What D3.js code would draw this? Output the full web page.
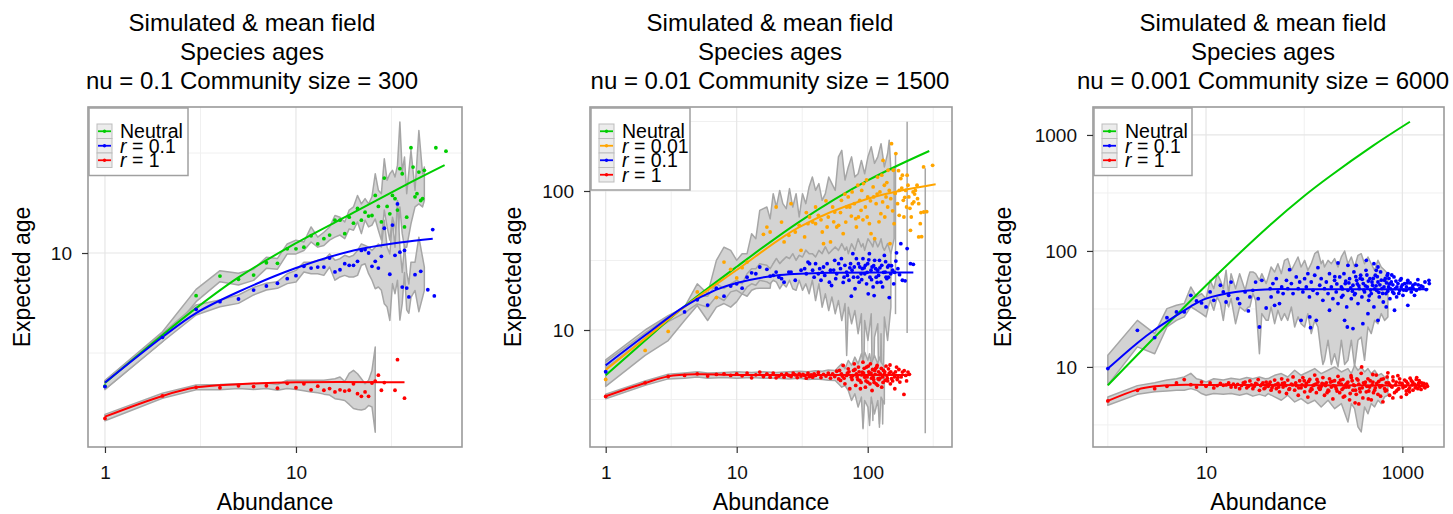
<!DOCTYPE html>
<html>
<head>
<meta charset="utf-8">
<script src="https://cdn.jsdelivr.net/npm/d3@7"></script>
<style>
  html, body { margin: 0; padding: 0; background: #fff; }
  svg { display: block; font-family: "Liberation Sans", Arial, Helvetica, sans-serif; }
</style>
</head>
<body>
<svg id="chart" width="1453" height="514"></svg>
<script>
// ---------- Panel 1: nu = 0.1, community size = 300 ----------
const p1XTicks = [1, 10];
const p1YTicks = [10];
const p1XMinor = [3.162, 31.62];
const p1YMinor = [3.162, 31.62];

const p1NeutralMean = [[1,2.24],[2,3.89],[3,5.3],[5,7.55],[10,11.2],[20,15.9],[40,22.6],[60,27.5]];
const p1R01Mean = [[1,2.25],[2,3.8],[3,5.01],[5,6.4],[10,8.41],[20,10.3],[35,11.3],[52,11.8]];
const p1R1Mean = [[1,1.52],[2,1.93],[3,2.13],[5,2.21],[10,2.26],[37,2.26]];

const p1NeutralPts = [[1,2.16],[2,3.82],[3,6.12],[4,7.67],[5,7.39],[6,7.76],[7,8.94],[8,8.88],[9,10.5],[10,10.5],[11,10.7],[12,12.2],[13,11.1],[14,11.8],[15,12.3],[16,14.6],[17,14.6],[18,12.5],[19,15.1],[20,14.1],[21,16.7],[22,14.6],[23,16.0],[24,15.3],[25,15.4],[26,19.4],[27,17.1],[28,14.3],[29,23.7],[30,17.1],[31,15.7],[32,19.4],[33,18.7],[34,16.4],[35,26.4],[36,24.9],[37,13.5],[38,15.1],[40,33.6],[41,26.9],[42,19.1],[43,19.8],[44,25.4],[45,18.3],[46,18.7],[47,25.9],[54,33.6],[61,32.3]];
const p1R01Pts = [[1,2.15],[2,3.79],[3,5.23],[4,5.71],[5,5.89],[6,6.53],[7,6.84],[8,7.06],[9,7.44],[10,7.7],[11,8.58],[12,8.41],[13,8.51],[14,8.51],[15,9.44],[16,8.04],[17,8.25],[18,8.84],[19,8.68],[20,8.68],[21,9.09],[22,10.3],[23,10.4],[24,10.0],[25,8.58],[26,9.09],[27,8.41],[28,9.63],[29,13.3],[31,7.83],[32,13.8],[33,9.74],[34,17.6],[35,10.1],[36,6.76],[37,10.3],[38,6.68],[39,6.03],[42,7.79],[45,8.1],[49,6.55],[52,13.1],[53,6.1]];
const p1R1Pts = [[1,1.49],[2,1.93],[3,2.13],[4,2.12],[5,2.17],[6,2.15],[7,2.17],[8,2.11],[9,2.23],[10,2.12],[11,2.22],[12,2.07],[13,2.16],[14,2.06],[15,2.10],[16,2.02],[17,2.07],[18,2.04],[19,2.06],[20,2.22],[21,1.98],[22,1.92],[23,2.02],[24,1.92],[25,2.24],[26,2.29],[27,2.45],[28,2.06],[29,2.25],[33,2.06],[34,2.93],[37,1.88]];

// bands: [abundance, low, high]
const p1NeutralBand = [[1,2.08,2.3],[2,3.6,4.04],[3,5.71,6.58],[4,7.19,8.16],[5,6.92,7.92],[6,7.3,8.3],[7,8.38,9.52],[8,8.3,9.4],[9,9.9,11.1],[10,9.9,11.6],[11,10.3,11.35],[12,11.35,13.5],[13,10.7,12.0],[14,10.9,12.7],[15,11.6,13.5],[16,12.0,15.4],[17,12.3,15.1],[18,11.8,14.3],[19,13.2,16.4],[20,13.0,17.0],[21,14.3,19.4],[22,12.5,17.6],[23,14.6,18.7],[24,13.5,17.6],[25,13.8,19.1],[26,14.8,24.9],[27,13.0,20.6],[28,11.6,19.8],[29,16.4,29.6],[30,13.5,23.1],[31,11.6,24.9],[32,15.1,25.9],[33,13.5,24.0],[34,10.7,27.5],[35,17.0,45.2],[36,12.5,25.4],[37,10.7,30.2],[38,10.7,19.8],[40,14.0,32.6],[42,17.0,20.6],[44,17.6,41.0],[46,17.0,24.9],[47,18.3,26.9]];
const p1R01Band = [[1,2.08,2.3],[2,3.6,3.97],[3,4.9,5.5],[4,5.39,5.82],[5,5.6,6.17],[6,6.17,6.73],[7,6.53,7.06],[8,6.66,7.19],[9,7.03,7.88],[10,7.16,8.19],[11,8.04,9.0],[12,7.88,9.0],[13,7.88,9.19],[14,7.73,9.19],[15,8.51,9.9],[16,7.31,9.19],[17,7.59,9.37],[18,7.73,9.74],[19,7.59,9.55],[20,7.59,9.74],[21,7.73,10.3],[22,8.68,11.1],[23,8.84,10.9],[24,7.88,10.7],[25,7.31,10.3],[26,6.63,10.7],[27,6.76,11.1],[28,6.51,10.7],[29,5.57,14.6],[30,5.37,10.7],[31,4.6,9.9],[32,7.03,14.6],[33,6.26,10.7],[34,7.31,18.3],[35,4.62,10.7],[36,5.6,8.0],[37,8.0,11.0],[38,5.2,8.0],[39,5.0,7.0],[40,6.0,9.0],[42,6.5,9.0],[44,5.09,12.0],[46,6.0,9.5],[47,6.5,8.5]];
const p1R1Band = [[1,1.45,1.56],[2,1.88,1.99],[3,2.07,2.19],[4,2.07,2.2],[5,2.1,2.22],[6,2.08,2.22],[7,2.1,2.24],[8,2.06,2.2],[9,2.1,2.31],[10,2.08,2.31],[11,2.05,2.31],[12,2.02,2.31],[13,2.0,2.31],[14,1.97,2.31],[15,1.95,2.33],[16,1.87,2.35],[17,1.85,2.4],[18,1.83,2.28],[19,1.75,2.5],[20,1.67,2.59],[21,1.65,2.49],[22,1.64,2.35],[23,1.66,2.22],[24,1.73,2.31],[25,1.70,2.59],[26,1.27,3.39]];

// ---------- Panel 2: nu = 0.01, community size = 1500 ----------
const p2XTicks = [1, 10, 100];
const p2YTicks = [10, 100];
const p2XMinor = [3.162, 31.62, 316.2];
const p2YMinor = [3.162, 31.62, 316.2];

const p2NeutralMean = [[1,4.72],[2,8.4],[4,14.8],[10,28.5],[30,60],[100,119],[295,194]];
const p2R001Mean = [[1,5.15],[2,8.7],[4,14.7],[10,27],[30,55],[100,88],[330,112]];
const p2R01Mean = [[1,5.57],[2,9.16],[4,14.8],[7,19.5],[10,21.8],[20,24.7],[50,25.8],[223,25.9]];
const p2R1Mean = [[1,3.34],[2,4.16],[3,4.64],[5,4.8],[10,4.75],[210,4.75]];

const p2R001Pts = [[1,4.41],[2,7.13],[3,9.77],[5,18.8],[7,17.1],[8,30.8],[9,27.3],[10,23.7],[11,28.1],[12,30.8],[16,48.8],[17,55],[18,50.7],[20,76.7],[22,59.8],[23,43.0],[25,48.0],[26,81.1],[28,50.7],[30,56.6],[31,37.4],[33,46.7],[35,58.2],[36,65.0],[38,59.8],[40,76.7],[40,58.2],[42,66.8],[45,50.7],[46,41.8],[49,55.1],[50,65.0],[52,43.0],[54,76.7],[56,70.6],[58,55.1],[60,56.6],[63,85.7],[65,49.3],[68,59.8],[69,76.7],[71,90.6],[73,76.7],[76,98.4],[79,81.1],[81,63.2],[82,55.1],[85,65.0],[87,85.7],[89,72.6],[90,101],[93,113],[96,76.7],[99,65.0],[100,90.6],[103,58.2],[106,49.3],[110,107],[111,90.6],[113,45.4],[116,81.1],[119,126],[124,98.4],[126,68.7],[130,83.4],[131,166],[134,110],[135,65.0],[138,90.6],[142,76.7],[143,141],[146,101],[148,41.8],[152,219],[157,141],[159,58.2],[164,186],[169,81.1],[174,66.8],[174,101],[179,123],[184,130],[187,85.7],[189,65.0],[195,101],[198,76.7],[200,130],[206,90.6],[212,52.1],[215,65.0],[219,81.1],[222,98.4],[225,83.4],[231,101],[238,110],[245,46.7],[245,81.1],[252,58.2],[258,46.9],[267,149],[268,70.6],[282,71],[313,153],
  [34,70],[44,62],[48,85],[55,60],[62,70],[67,95],[75,66],[84,110],[92,62],[98,120],[105,85],[118,95],[122,60],[128,130],[140,115],[150,88],[155,72],[162,96],[172,140],[182,105],[192,90],[203,110],[210,75],[228,95],[240,88],[255,70]];
const p2R01Pts = [[1,5.01],[4,13.5],[5,16.5],[6,15.1],[7,20.0],[8,17.5],[9,20.7],[10,21.5],[11,20.0],[12,24.0],[13,25.8],[14,25.4],[15,28.4],[17,27.3],[18,24.4],[19,24.7],[20,26.1],[21,24.0],[22,23.4],[23,22.1],[25,26.1],[26,26.1],[28,22.8],[31,26.9],[33,27.6],[34,25.4],[35,30.8],[36,30.0],[38,26.9],[39,24.0],[40,30.0],[42,25.4],[43,27.6],[44,22.8],[46,28.4],[47,24.7],[49,30.0],[51,22.1],[52,26.9],[53,20.9],[56,31.7],[57,23.4],[58,25.4],[60,30.0],[62,27.6],[63,32.6],[66,24.0],[67,29.2],[69,26.1],[70,24.7],[72,22.8],[74,30.0],[75,17.5],[76,26.9],[77,35.4],[79,28.4],[80,19.8],[82,32.6],[84,24.0],[86,22.1],[87,28.4],[89,25.4],[91,27.6],[92,32.6],[95,25.4],[96,29.2],[98,21.5],[100,30.0],[101,18.2],[103,35.4],[104,24.0],[106,26.9],[108,28.4],[110,20.4],[112,17.7],[113,31.7],[115,27.6],[116,24.0],[119,26.9],[121,24.7],[123,31.7],[126,22.1],[128,29.2],[130,20.4],[134,34.4],[136,26.1],[138,24.0],[140,23.4],[142,28.4],[145,29.2],[146,17.1],[150,25.4],[155,26.9],[158,21.5],[164,31.3],[166,35.9],[170,27.6],[179,41.8],[184,22.8],[193,22.6],[200,38.5],[212,30.0],[223,29.7],
  [45,26],[55,27],[65,22],[73,28],[78,24],[85,30],[90,23],[94,28],[99,26],[102,32],[107,23],[111,29],[118,22],[124,28],[132,26],[137,31],[144,24],[152,29],[160,26],[175,25]];
const p2R1Pts = [[1,3.33],[2,4.17],[3,4.63],[4,4.71],[5,4.84],[6,4.66],[7,4.79],[8,4.84],[9,4.71],[10,4.84],[11,4.68],[12,4.90],[13,4.53],[14,4.76],[15,4.98],[16,4.63],[17,4.84],[18,4.58],[19,4.90],[20,4.53],[21,4.66],[22,4.79],[23,4.58],[24,4.84],[25,4.71],[26,4.63],[27,4.9],[28,4.76],[29,4.55],[30,4.84],[31,4.66],[32,4.79],[33,4.71],[34,4.5],[35,4.9],[36,4.63],[37,4.76],[38,4.58],[39,4.84],[40,4.71],[42,4.95],[44,4.55],[46,4.79],[48,4.66],[50,4.9],[52,4.5],[54,4.84],[56,4.63],[58,5.05],[60,4.45],[61,5.12],[62,4.34],[63,4.84],[64,4.66],[65,5.56],[67,4.10],[69,4.71],[70,4.9],[71,5.26],[73,3.78],[75,4.58],[76,4.4],[78,5.12],[79,5.71],[81,3.99],[82,4.84],[83,4.6],[85,5.41],[87,4.34],[88,3.78],[90,4.75],[91,4.98],[92,5.87],[95,4.58],[96,3.88],[97,4.3],[98,5.41],[100,4.22],[102,5.0],[103,4.84],[105,5.71],[107,4.5],[108,3.67],[110,4.58],[112,4.2],[113,5.12],[115,5.3],[116,4.10],[118,5.56],[120,4.46],[122,4.4],[125,4.84],[128,3.88],[130,4.6],[132,5.12],[135,5.0],[136,4.34],[140,4.71],[142,4.3],[144,5.26],[149,4.10],[150,5.0],[152,4.46],[157,4.84],[160,4.6],[161,3.78],[166,5.41],[170,4.58],[176,4.22],[184,4.98],[189,3.44],[195,4.71],[203,4.98],
  [66,4.5],[72,5.0],[77,4.7],[80,5.2],[84,4.4],[86,5.0],[89,4.2],[93,4.9],[94,5.3],[99,4.6],[101,5.5],[104,4.1],[106,4.9],[109,5.2],[111,4.4],[114,4.8],[117,5.4],[119,4.0],[121,5.0],[124,4.5],[127,5.3],[131,4.2],[134,4.8],[138,5.5],[141,4.5],[146,4.9],[148,5.6],[155,4.3],[163,5.0],[168,4.4],[173,5.2],[180,4.6],[190,5.1],[198,4.3],[208,4.8]];

const p2R001Band = [[1,3.93,6.1],[2,6.56,10.0],[3,8.4,12.7],[4,11.7,14.6],[5,15.0,21.5],[6,11.7,18.2],[7,14.6,31.7],[8,15.5,39.4],[9,14.6,37.4],[10,16.0,31.7],[11,18.2,35.4],[12,17.5,35.4],[13,19.3,49.3],[14,19.9,45.4],[15,20.0,72.6],[17,20.0,76.7],[18,20.0,63.0],[19,30.0,95.7],[20.1,32.6,76.7],[21.3,30.0,101],[22.5,31.7,81.1],[23.9,33.5,74.6],[25.3,32.6,104],[26.8,34.4,76.7],[28.4,31.7,95.7],[30,34.4,65.0],[31.8,32.6,95.7],[33.7,37.4,81.1],[35.7,35.4,107],[37.8,35.4,126],[40,33.5,101],[42.4,33.5,113],[44.9,35.4,85.7],[47.5,39.6,95.7],[50.4,31.7,126],[53.3,37.4,113],[56.5,30.0,101],[59.8,37.4,176],[63.4,30.0,196],[67.1,35.4,120],[71.1,28.4,149],[75.3,37.4,176],[79.8,26.9,126],[84.5,35.4,133],[89.5,25.4,166],[94.8,33.5,133],[100.4,30.0,176],[106.4,37.4,208],[112.7,26.9,158],[119.4,35.4,176],[126.4,31.7,219],[134,37.4,149],[141.9,30.0,186],[146,37.4,232],[150.3,35.4,141],[159.2,45.4,149]];
const p2R01Band = [[1,5.3,5.9],[2,8.8,9.5],[3,11.5,12.5],[4,13.3,14.6],[5,15.4,17.5],[6,14.6,17.5],[7,17.5,21.5],[8,16.3,19.9],[9,18.8,21.5],[10,19.3,22.8],[11,18.2,21.5],[12,20.4,25.4],[13,21.5,27.6],[14,21.0,27.6],[15,22.8,30.0],[17,22.2,29.2],[18,21.5,27.6],[19,22.8,30.0],[20.1,22.1,32.6],[21.3,19.8,30.0],[22.5,21.5,31.7],[23.9,20.4,33.5],[25.3,22.8,32.6],[26.8,19.8,35.4],[28.4,19.3,31.7],[30,22.8,34.4],[31.8,19.3,33.5],[33.7,21.5,37.4],[35.7,18.2,35.4],[37.8,22.8,35.4],[40,16.3,33.5],[42.4,21.5,37.4],[44.9,14.6,35.4],[47.5,18.2,39.6],[50.4,13.8,35.4],[53.3,17.3,37.4],[56.5,13.1,39.6],[59.8,16.3,37.4],[63.4,11.7,41.8],[67.1,15.5,37.4],[69.1,6.56,39.6],[71.1,14.6,35.4],[75.3,11.1,41.8],[79.8,13.8,37.4],[84.5,9.4,45.4],[89.5,13.1,39.6],[92.1,2.0,41.8],[94.8,11.7,37.4],[100.4,8.41,45.4],[106.4,13.1,41.8],[109.5,2.23,39.6],[112.7,8.89,45.4],[119.4,11.1,39.6],[122.9,2.0,41.8],[126.4,9.4,45.4],[130.1,2.11,39.6],[134,12.4,37.4],[141.9,8.41,41.8],[150.3,14.6,35.4]];
const p2R1Band = [[1,3.2,3.45],[2,4.0,4.3],[3,4.45,4.8],[4,4.5,4.9],[5,4.6,5.0],[6,4.5,4.9],[8,4.55,4.95],[10,4.5,5.0],[13,4.55,4.95],[16,4.5,5.0],[20,4.5,4.95],[25,4.45,5.0],[30,4.5,5.05],[35,4.4,5.0],[40,4.45,5.1],[45,4.4,5.05],[50,4.35,5.15],[56.5,4.34,5.12],[59.8,4.10,5.41],[63.4,3.88,5.71],[67.1,3.99,5.26],[71.1,3.67,6.04],[75.3,3.11,5.56],[79.8,3.48,6.38],[84.5,2.79,5.71],[89.5,3.29,6.75],[92.1,1.95,6.04],[94.8,3.11,6.93],[100.4,2.79,6.04],[103.3,2.06,6.75],[106.4,3.29,5.71],[112.7,2.49,6.56],[119.4,3.11,5.71],[122.9,2.11,6.38],[126.4,3.29,5.87],[134,2.94,5.41]];
// single-abundance intervals drawn as vertical strokes: [abundance, low, high]
const p2Spikes = [[163,13,186],[200,9.5,315],[275,1.81,146]];

// ---------- Panel 3: nu = 0.001, community size = 6000 ----------
const p3XTicks = [10, 1000];
const p3YTicks = [10, 100, 1000];
const p3XMinor = [1, 100];
const p3YMinor = [3.162, 31.62, 316.2];

const p3NeutralMean = [[1,6.95],[10,50.4],[45,167.5],[100,298],[183,441],[500,806],[1194,1300]];
const p3R01Mean = [[1,9.67],[2,16.1],[3,20.9],[5,27.8],[7,33.3],[10,38.8],[20,44.3],[40,46.6],[100,46.8],[1837,46.8]];
const p3R1Mean = [[1,5.09],[2,6.37],[3,6.8],[5,7.0],[10,7.0],[1700,6.9]];

const p3R01Pts = [[1,9.67],[2,20.7],[3,17.9],[4,26.6],[5,29.8],[6,29.8],[7,41.4],[8,37],[9,35.6],[10,32.9],[11,44.3],[12,37.5],[14,50.6],[15,44.3],[16,36.3],[17,41.4],[18,53.9],[21,38.8],[22,35.2],[25,44.3],[27,30.4],[28,40.1],[30,45.8],[32,53.9],[34,38.8],[35,22.1],[37,55.8],[41,32.2],
  [71,69.0],[109,63.7],[138,71.8],[221,78.7],[279,75.2],[339,75.2],[429,83.0],[513,77.6],[542,68.1],[564,72.7],[712,63.7],[973,57.7],[1137,55.8],[1439,56.5],[1866,55.8],[1880,52.3],
  [46,40.1],[50,34.0],[56,35.2],[93,25.2],[114,27.0],[116,21.8],[133,25.2],[181,30.8],[258,25.2],[275,22.1],[314,21.4],[396,23.6],[446,28.8],[564,25.2],[685,32.9],[832,30.8],[1137,34.0],[1329,41.4],
  [45,47.3],[48,52.3],[52,57.7],[54,44.3],[59,48.9],[61,42.9],[66,55.8],[68,47.3],[74,52.3],[77,42.9],[83,59.7],[87,47.3],[90,54.0],[97,44.3],[101,57.7],[105,48.9],[113,40.1],[118,54.0],[123,45.8],[128,61.7],[136,42.9],[144,50.6],[149,57.7],[155,37.5],[161,47.3],[168,54.0],[175,42.9],[181,63.7],[189,48.9],[196,38.8],[204,55.8],[212,44.3],[221,35.2],[230,59.7],[239,48.9],[248,41.4],[254,63.7],[262,52.3],[271,32.9],[279,45.8],[290,57.7],[302,38.8],[314,50.6],[321,65.9],[331,42.9],[342,55.8],[353,35.2],[364,47.3],[376,61.7],[387,40.1],[400,52.3],[412,44.3],[426,68.1],[439,48.9],[453,37.5],[467,57.7],[482,42.9],[498,50.6],[513,32.9],[530,61.7],[547,45.8],[564,54.0],[582,40.1],[600,65.9],[619,47.3],[639,36.3],[659,55.8],[680,42.9],[702,61.7],[724,48.9],[747,38.8],[771,54.0],[796,44.3],[821,59.7],[847,47.3],[874,40.1],[902,52.3],[938,45.8],[973,48.9],[1014,41.4],[1054,52.3],[1096,45.8],[1186,47.3],[1233,44.3],[1282,50.6],[1387,45.8],[1496,47.3],[1618,48.9],[1750,46.4],
  [215,52],[245,47],[285,53],[310,45],[335,60],[360,50],[390,57],[420,50],[450,55],[475,46],[505,58],[540,50],[575,44],[610,56],[650,49],[690,53],[730,58],[760,47],[800,51],[860,55],[920,43],[1000,51],[1100,49],[1200,53],[1300,47],[1450,51],
  [205,60],[240,40],[265,55],[298,48],[325,42],[348,52],[372,58],[405,46],[435,62],[460,41],[490,54],[520,47],[555,60],[590,51],[630,43],[670,58],[710,45],[740,52],[780,62],[820,43],[880,49],[950,56],[1030,46],[1120,53],[1250,48],[1350,52],[1550,50],[1700,54]];
const p3R1Pts = [[1,5.09],[2,6.28],[3,6.5],[4,6.8],[5,7.27],[6,7.78],[7,7.03],[8,6.71],[9,7.41],[10,6.8],[11,7.27],[12,6.59],[13,6.9],[14,7.2],[15,6.95],[16,7.0],[17,7.27],[18,6.71],[19,7.1],[20,6.7],[21,7.08],[22,6.5],[23,6.9],[24,7.3],[25,7.41],[26,6.6],[27,6.8],[28,7.57],[29,7.0],[30,6.5],[31,6.8],[32,7.2],[33,7.1],[34,7.78],[35,6.28],[36,6.9],[37,7.08],[38,7.3],[39,6.5],[40,6.6],[41,7.41],[42,7.0],
  [43,6.8],[45,7.4],[46,6.3],[48,6.9],[50,7.7],[52,6.5],[54,7.2],[56,6.1],[59,7.9],[61,6.7],[63,7.3],[66,5.9],[68,7.7],[71,6.5],[74,7.1],[77,8.2],[80,6.3],[83,6.9],[87,5.7],[90,7.6],[93,6.6],[97,8.1],[101,6.1],[105,7.2],[109,5.5],[114,7.8],[118,6.5],[123,6.9],[128,8.5],[133,6.0],[138,7.4],[144,6.4],[149,6.8],[155,8.1],[161,5.7],[168,7.3],[175,6.3],[181,7.9],[189,6.7],[196,5.3],[204,7.6],[212,6.5],[221,8.3],[230,6.0],[239,7.1],[248,7.8],[258,5.6],[268,6.7],[279,7.4],[290,5.2],[302,8.1],[314,6.3],[326,6.9],[339,5.8],[353,7.7],[367,6.5],[381,8.8],[396,5.4],[412,7.2],[429,6.1],[446,7.9],[464,6.7],[482,5.2],[501,7.4],[521,6.3],[542,8.5],[564,5.8],[586,6.9],[609,7.8],[634,5.0],[659,6.5],[685,7.3],[712,8.9],[741,5.7],[771,6.8],[801,8.2],[832,6.0],[866,7.4],[902,6.4],[938,7.9],[973,5.5],[1014,6.9],[1054,7.7],[1096,6.2],[1137,7.2],[1186,6.6],[1233,7.6],[1282,6.3],[1329,7.1],[1387,7.8],[1439,6.5],[1496,6.8],[1570,7.3],[1683,6.7],
  [44,7.1],[47,6.6],[51,7.0],[55,6.7],[60,7.2],[65,6.9],[70,6.4],[76,7.0],[82,7.3],[88,6.6],[95,7.0],[103,6.8],[111,7.5],[120,6.4],[131,7.1],[141,6.6],[152,7.2],[165,6.9],[178,6.2],[192,7.5],[208,6.8],[225,7.3],[243,6.4],[263,7.0],[285,6.7],[308,7.6],[333,6.3],[360,7.1],[390,6.6],[420,7.4],[455,6.2],[492,7.0],[530,6.6],[575,7.5],[620,6.9],[670,6.2],[725,7.3],[785,6.7],[850,7.0],[920,6.5],[995,7.2],[1075,6.8],[1160,6.4],[1255,7.0],[1355,6.6],[1460,7.2],[1600,6.9],[1700,6.6],[1760,7.1],[1800,6.8],
  [100,7.6],[115,6.2],[126,7.0],[135,7.8],[146,6.5],[158,7.1],[171,6.0],[185,7.4],[199,6.9],[216,6.2],[234,7.7],[252,6.6],[272,7.2],[294,5.9],[318,7.0],[344,7.9],[372,6.1],[402,7.3],[435,6.8],[470,7.6],[508,6.0],[548,7.2],[592,6.7],[640,7.9],[690,6.3],[745,7.0],[805,7.6],[870,6.2],[940,7.3],[1015,6.6],[1095,7.5],[1180,6.1],[1275,7.4],[1375,6.9],[1485,7.6],[1550,6.4],[1650,7.2],
  [250,5.5],[450,5.3],[600,5.6],[800,5.4],[1100,5.8],[300,8.4],[500,8.6],[700,8.2],[900,8.4],[1200,8.0],[1400,8.1],
  [385,10.0],[330,4.9],[360,4.8]];

const p3R01Band = [[1,7.0,12.6],[2,14.9,25.2],[3,13.0,19.4],[4,22.1,31.8],[5,25.2,34.0],[6,27.0,35.2],[7,32.9,48.9],[8,30.8,40.1],[9,28.8,42.9],[10,27.0,38.8],[11,37.5,55.8],[12,30.8,47.3],[13,40.1,63.7],[14,35.2,55.8],[15,25.2,47.3],[16,37.5,68.1],[17,32.9,42.9],[18,38.8,63.7],[20,23.6,47.3],[22,32.9,63.7],[25,30.3,45.8],[27,32.9,59.7],[28,32.9,65.9],[30,42.9,65.9],[32,37.5,63.7],[35,13.0,55.8],[37,28.8,63.7],[41,25.2,52.3],[43,25.2,59.7],[46,32.9,72.7],[50,23.6,65.9],[54,30.8,77.6],[58.5,25.2,63.7],[63,28.8,83.0],[68,25.2,85.9],[74,32.9,68.1],[80,22.1,77.6],[86.5,27.0,88.7],[93,23.6,72.7],[101,22.1,83.0],[109,28.8,68.1],[118,19.4,77.6],[128,25.2,94.7],[138,22.1,99.9],[149,13.0,77.6],[155,10.5,83.0],[161,11.4,72.7],[175,17.0,83.0],[189,10.5,77.6],[204,13.0,85.9],[221,10.0,72.7],[239,17.0,88.7],[258,10.5,99.9],[279,11.4,77.6],[302,17.0,88.7],[326,10.0,72.7],[353,17.0,91.7],[381,18.1,94.7],[412,11.4,77.6],[446,22.1,88.7],[482,19.4,77.6],[521,25.2,68.1],[564,23.6,83.0],[609,28.8,72.7],[659,25.2,68.1],[712,27.0,63.7]];
const p3R1Band = [[1,4.67,5.51],[2,5.8,6.9],[3,6.1,7.3],[4,6.2,7.7],[5,6.3,7.9],[6,6.3,8.2],[7,6.5,8.8],[8,6.3,7.9],[9,5.9,7.7],[10,5.7,7.4],[12,5.9,7.9],[15,5.8,7.7],[18,5.9,8.0],[22,5.7,7.8],[26,5.9,8.1],[30,5.6,7.9],[35,5.8,8.2],[40,5.6,7.9],[43,5.89,7.93],[50,5.51,8.47],[58.5,5.16,8.76],[68,5.70,8.19],[80,4.99,9.36],[93,5.33,8.47],[109,4.83,9.05],[128,5.16,9.67],[149,4.52,8.76],[175,5.16,9.36],[204,4.37,10.0],[239,4.83,9.05],[279,3.35,9.67],[302,4.83,8.76],[326,4.37,10.3],[353,3.04,9.36],[381,2.75,10.0],[412,4.52,9.05],[446,3.95,9.67],[482,4.83,8.76],[521,4.52,9.36],[564,5.16,8.47],[609,4.83,8.76],[659,5.51,8.19],[712,5.70,7.93]];

// ---------- styles ----------
const colors = { neutral: "#00cd00", r001: "#ffa500", r01: "#0000ff", r1: "#ff0000" };
const bandFill = "#d3d3d3";
const bandStroke = "#a6a6a6";

const panels = [
  {
    title: ["Simulated & mean field", "Species ages", "nu = 0.1 Community size = 300"],
    titleX: 252, box: [88, 107, 462, 447],
    xDomain: [0.815, 74], yDomain: [1.072, 53.7],
    xTicks: p1XTicks, yTicks: p1YTicks, xMinor: p1XMinor, yMinor: p1YMinor,
    yTitleX: 29.5, legendW: 99, spikes: [],
    series: [
      { key: "neutral", band: p1NeutralBand, mean: p1NeutralMean, pts: p1NeutralPts },
      { key: "r01", r: "0.1", band: p1R01Band, mean: p1R01Mean, pts: p1R01Pts },
      { key: "r1", r: "1", band: p1R1Band, mean: p1R1Mean, pts: p1R1Pts }
    ]
  },
  {
    title: ["Simulated & mean field", "Species ages", "nu = 0.01 Community size = 1500"],
    titleX: 770, box: [590, 107, 952, 447],
    xDomain: [0.759, 440], yDomain: [1.44, 402],
    xTicks: p2XTicks, yTicks: p2YTicks, xMinor: p2XMinor, yMinor: p2YMinor,
    yTitleX: 521, legendW: 99, spikes: p2Spikes,
    series: [
      { key: "neutral", mean: p2NeutralMean },
      { key: "r001", r: "0.01", band: p2R001Band, mean: p2R001Mean, pts: p2R001Pts },
      { key: "r01", r: "0.1", band: p2R01Band, mean: p2R01Mean, pts: p2R01Pts },
      { key: "r1", r: "1", band: p2R1Band, mean: p2R1Mean, pts: p2R1Pts }
    ]
  },
  {
    title: ["Simulated & mean field", "Species ages", "nu = 0.001 Community size = 6000"],
    titleX: 1263, box: [1093, 107, 1444, 447],
    xDomain: [0.706, 2655], yDomain: [2.04, 1742],
    xTicks: p3XTicks, yTicks: p3YTicks, xMinor: p3XMinor, yMinor: p3YMinor,
    yTitleX: 1011, legendW: 98, spikes: [],
    series: [
      { key: "neutral", mean: p3NeutralMean },
      { key: "r01", r: "0.1", band: p3R01Band, mean: p3R01Mean, pts: p3R01Pts },
      { key: "r1", r: "1", band: p3R1Band, mean: p3R1Mean, pts: p3R1Pts }
    ]
  }
];

const svg = d3.select("#chart");
const defs = svg.append("defs");

panels.forEach((p, i) => {
  const [left, top, right, bottom] = p.box;
  const x = d3.scaleLog().domain(p.xDomain).range([left, right]);
  const y = d3.scaleLog().domain(p.yDomain).range([bottom, top]);

  // title, three lines
  const tg = svg.append("g").attr("font-size", 24).attr("text-anchor", "middle").attr("fill", "#000");
  p.title.forEach((t, j) => tg.append("text").attr("x", p.titleX).attr("y", 31 + j * 29.2).text(t));

  // grid
  const grid = svg.append("g");
  const vline = (v, c, w) => grid.append("line").attr("x1", x(v)).attr("x2", x(v))
    .attr("y1", top).attr("y2", bottom).attr("stroke", c).attr("stroke-width", w);
  const hline = (v, c, w) => grid.append("line").attr("x1", left).attr("x2", right)
    .attr("y1", y(v)).attr("y2", y(v)).attr("stroke", c).attr("stroke-width", w);
  p.xMinor.forEach(v => vline(v, "#f0f0f0", 1));
  p.yMinor.forEach(v => hline(v, "#f0f0f0", 1));
  p.xTicks.forEach(v => vline(v, "#e6e6e6", 1.2));
  p.yTicks.forEach(v => hline(v, "#e6e6e6", 1.2));

  defs.append("clipPath").attr("id", "clip" + i).append("rect")
    .attr("x", left).attr("y", top).attr("width", right - left).attr("height", bottom - top);
  const plot = svg.append("g").attr("clip-path", `url(#clip${i})`);

  const area = d3.area().x(d => x(d[0])).y0(d => y(d[1])).y1(d => y(d[2]));
  const line = d3.line().x(d => x(d[0])).y(d => y(d[1])).curve(d3.curveCatmullRom.alpha(0.5));

  // simulation ribbons
  p.series.filter(s => s.band).forEach(s => {
    plot.append("path").attr("d", area(s.band))
      .attr("fill", bandFill).attr("stroke", bandStroke)
      .attr("stroke-width", 1.5).attr("stroke-linejoin", "round");
  });
  p.spikes.forEach(d => {
    plot.append("line").attr("x1", x(d[0])).attr("x2", x(d[0]))
      .attr("y1", y(d[1])).attr("y2", y(d[2]))
      .attr("stroke", bandStroke).attr("stroke-width", 1.5);
  });

  // mean field lines
  p.series.forEach(s => {
    plot.append("path").attr("d", line(s.mean)).attr("fill", "none")
      .attr("stroke", colors[s.key]).attr("stroke-width", 2);
  });

  // simulated points
  p.series.filter(s => s.pts).forEach(s => {
    plot.append("g").selectAll("circle").data(s.pts).join("circle")
      .attr("cx", d => x(d[0])).attr("cy", d => y(d[1])).attr("r", 1.9)
      .attr("fill", colors[s.key]);
  });

  // panel border
  svg.append("rect").attr("x", left).attr("y", top)
    .attr("width", right - left).attr("height", bottom - top)
    .attr("fill", "none").attr("stroke", "#9a9a9a").attr("stroke-width", 1.6);

  // axes
  const styleAxis = g => {
    g.select(".domain").remove();
    g.attr("font-size", 19).attr("font-family", null);
    g.selectAll(".tick line").attr("stroke", "#333").attr("stroke-width", 1.2);
    g.selectAll(".tick text").attr("fill", "#111");
  };
  svg.append("g").attr("transform", `translate(0,${bottom})`)
    .call(d3.axisBottom(x).tickValues(p.xTicks).tickFormat(d3.format("d")).tickSize(6).tickPadding(13))
    .call(styleAxis);
  svg.append("g").attr("transform", `translate(${left},0)`)
    .call(d3.axisLeft(y).tickValues(p.yTicks).tickFormat(d3.format("d")).tickSize(6).tickPadding(10))
    .call(styleAxis);

  // axis titles
  svg.append("text").attr("x", (left + right) / 2).attr("y", 510)
    .attr("text-anchor", "middle").attr("font-size", 23).text("Abundance");
  svg.append("text").attr("transform", `translate(${p.yTitleX},${(top + bottom) / 2}) rotate(-90)`)
    .attr("text-anchor", "middle").attr("font-size", 23).text("Expected age");

  // legend inside the panel, top left
  const lx = left + 1, ly = 108, step = 14.5;
  const lg = svg.append("g");
  lg.append("rect").attr("x", lx).attr("y", ly).attr("width", p.legendW)
    .attr("height", 24 + p.series.length * step)
    .attr("fill", "#fff").attr("stroke", "#a0a0a0").attr("stroke-width", 1.5);
  p.series.forEach((s, k) => {
    const ky = ly + 16 + k * step, cy = ky + step / 2;
    lg.append("rect").attr("x", lx + 8).attr("y", ky).attr("width", 15).attr("height", step)
      .attr("fill", "#ececec").attr("stroke", "#bdbdbd").attr("stroke-width", 1);
    lg.append("line").attr("x1", lx + 9).attr("x2", lx + 22).attr("y1", cy).attr("y2", cy)
      .attr("stroke", colors[s.key]).attr("stroke-width", 1.8);
    lg.append("circle").attr("cx", lx + 15.5).attr("cy", cy).attr("r", 1.7).attr("fill", colors[s.key]);
    const t = lg.append("text").attr("x", lx + 31).attr("y", cy + 7).attr("font-size", 19.5);
    if (s.r) {
      t.append("tspan").attr("font-style", "italic").text("r");
      t.append("tspan").text(" = " + s.r);
    } else {
      t.text("Neutral");
    }
  });
});
</script>
</body>
</html>
